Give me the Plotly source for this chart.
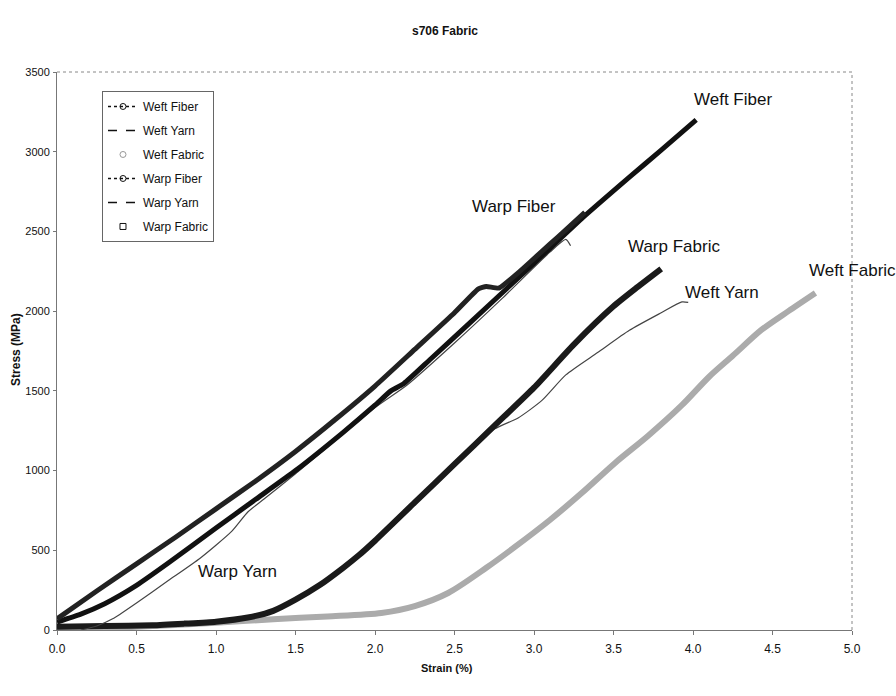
import plotly.graph_objects as go

# ---- data ----
warp_fiber_x = [0.0, 0.25, 0.5, 0.75, 1.0, 1.25, 1.5, 1.75, 2.0, 2.25, 2.5, 2.65, 2.7, 2.78, 2.9, 3.0, 3.1, 3.2, 3.32]
warp_fiber_y = [70, 245, 415, 585, 760, 935, 1120, 1320, 1530, 1760, 1990, 2140, 2155, 2145, 2240, 2330, 2420, 2510, 2620]

weft_fiber_x = [0.0, 0.15, 0.3, 0.5, 0.7, 1.0, 1.25, 1.5, 1.8, 2.0, 2.1, 2.18, 2.35, 2.6, 3.0, 3.3, 3.6, 3.8, 4.02]
weft_fiber_y = [50, 100, 165, 280, 420, 640, 820, 1000, 1240, 1410, 1500, 1545, 1700, 1930, 2300, 2580, 2840, 3010, 3200]

warp_yarn_x = [0.15, 0.25, 0.35, 0.5, 0.7, 0.9, 1.1, 1.2, 1.3, 1.5, 2.0, 2.2, 2.5, 2.8, 3.1, 3.2, 3.23]
warp_yarn_y = [0, 25, 70, 170, 310, 450, 620, 740, 820, 980, 1395, 1535, 1800, 2080, 2370, 2450, 2410]

warp_fabric_x = [0.0, 0.3, 0.6, 0.8, 1.0, 1.2, 1.36, 1.5, 1.65, 1.8, 1.9, 2.0, 2.25, 2.5, 2.75, 3.0, 3.25, 3.5, 3.65, 3.8]
warp_fabric_y = [20, 25, 30, 40, 52, 78, 120, 190, 280, 390, 470, 560, 800, 1040, 1280, 1520, 1790, 2030, 2150, 2265]

weft_yarn_x = [0.8, 1.2, 1.5, 2.0, 2.5, 2.75, 2.9, 3.05, 3.2, 3.4, 3.6, 3.8, 3.93, 3.97]
weft_yarn_y = [30, 70, 180, 550, 1030, 1260, 1330, 1440, 1600, 1740, 1880, 1990, 2058, 2055]

weft_fabric_x = [0.0, 0.5, 1.0, 1.36, 1.7, 2.04, 2.25, 2.46, 2.7, 2.88, 3.1, 3.3, 3.51, 3.72, 3.93, 4.1, 4.25, 4.43, 4.6, 4.77]
weft_fabric_y = [5, 20, 45, 68, 85, 107, 150, 232, 390, 521, 690, 859, 1048, 1220, 1410, 1587, 1720, 1882, 2000, 2114]

x_ticks = [0.0, 0.5, 1.0, 1.5, 2.0, 2.5, 3.0, 3.5, 4.0, 4.5, 5.0]
y_ticks = [0, 500, 1000, 1500, 2000, 2500, 3000, 3500]

series_labels = ["Weft Fiber", "Weft Yarn", "Weft Fabric", "Warp Fiber", "Warp Yarn", "Warp Fabric"]
curve_labels = {
    "Weft Fiber": (4.25, 3325),
    "Warp Fiber": (2.875, 2654),
    "Warp Fabric": (3.88, 2403),
    "Weft Yarn": (4.18, 2114),
    "Weft Fabric": (5.0, 2252),
    "Warp Yarn": (1.135, 364),
}

FONT = "Liberation Sans, Arial, sans-serif"

fig = go.Figure()

# ---- plotted curves (dense-marker look approximated with thick lines) ----
fig.add_trace(go.Scatter(x=weft_fabric_x, y=weft_fabric_y, mode="lines",
                         line=dict(color="#ababab", width=6, shape="spline", smoothing=0.8),
                         showlegend=False, hoverinfo="skip"))
fig.add_trace(go.Scatter(x=weft_yarn_x, y=weft_yarn_y, mode="lines",
                         line=dict(color="#444444", width=1.2, shape="spline", smoothing=0.6),
                         showlegend=False, hoverinfo="skip"))
fig.add_trace(go.Scatter(x=warp_fabric_x, y=warp_fabric_y, mode="lines",
                         line=dict(color="#1a1a1a", width=6, shape="spline", smoothing=0.6),
                         showlegend=False, hoverinfo="skip"))
fig.add_trace(go.Scatter(x=warp_yarn_x, y=warp_yarn_y, mode="lines",
                         line=dict(color="#444444", width=1.2, shape="spline", smoothing=0.6),
                         showlegend=False, hoverinfo="skip"))
fig.add_trace(go.Scatter(x=weft_fiber_x, y=weft_fiber_y, mode="lines",
                         line=dict(color="#111111", width=5, shape="spline", smoothing=0.5),
                         showlegend=False, hoverinfo="skip"))
fig.add_trace(go.Scatter(x=warp_fiber_x, y=warp_fiber_y, mode="lines",
                         line=dict(color="#222222", width=5, shape="spline", smoothing=0.4),
                         showlegend=False, hoverinfo="skip"))

# ---- legend entries (Excel style symbols) ----
legend_styles = {
    "Weft Fiber": dict(mode="lines+markers", line=dict(color="#111", width=1.5, dash="dot"),
                       marker=dict(symbol="circle-open", size=6, color="#111")),
    "Weft Yarn": dict(mode="lines", line=dict(color="#111", width=1.5, dash="dash")),
    "Weft Fabric": dict(mode="markers", marker=dict(symbol="circle-open", size=6, color="#999")),
    "Warp Fiber": dict(mode="lines+markers", line=dict(color="#111", width=1.5, dash="dot"),
                       marker=dict(symbol="circle-open", size=6, color="#111")),
    "Warp Yarn": dict(mode="lines", line=dict(color="#111", width=1.5, dash="dash")),
    "Warp Fabric": dict(mode="markers", marker=dict(symbol="square-open", size=6, color="#111")),
}
for i, name in enumerate(series_labels):
    fig.add_trace(go.Scatter(x=[None], y=[None], name=name, legendgroup=f"g{i}",
                             showlegend=True, **legend_styles[name]))

# ---- curve labels ----
for name, (lx, ly) in curve_labels.items():
    fig.add_annotation(x=lx, y=ly, xref="x", yref="y", text=name, showarrow=False,
                       xanchor="center", yanchor="middle",
                       font=dict(family=FONT, size=17, color="#111"))

# ---- titles ----
fig.add_annotation(x=0.488, y=1.0735, xref="paper", yref="paper", text="<b>s706 Fabric</b>",
                   xanchor="center", yanchor="middle",
                   showarrow=False, font=dict(family=FONT, size=12, color="#111"))
fig.add_annotation(x=0.4906, y=-0.068, xref="paper", yref="paper", text="<b>Strain (%)</b>",
                   xanchor="center", yanchor="middle",
                   showarrow=False, font=dict(family=FONT, size=11, color="#111"))
fig.add_annotation(x=-0.0515, y=0.502, xref="paper", yref="paper", text="<b>Stress (MPa)</b>",
                   xanchor="center", yanchor="middle",
                   textangle=-90, showarrow=False, font=dict(family=FONT, size=12, color="#111"))

# dotted plot-area border (top and right)
fig.add_shape(type="line", xref="paper", yref="paper", x0=0, x1=1, y0=1, y1=1,
              line=dict(color="#888", width=1, dash="dot"))
fig.add_shape(type="line", xref="paper", yref="paper", x0=1, x1=1, y0=0, y1=1,
              line=dict(color="#888", width=1, dash="dot"))

fig.update_layout(
    width=896, height=696,
    margin=dict(l=57, r=44, t=72, b=66),
    paper_bgcolor="white", plot_bgcolor="white",
    font=dict(family=FONT, size=12, color="#111"),
    legend=dict(x=0.0566, y=0.966, xanchor="left", yanchor="top",
                bgcolor="white", bordercolor="#666", borderwidth=1,
                font=dict(family=FONT, size=12), tracegroupgap=5,
                traceorder="grouped", itemwidth=30),
    xaxis=dict(range=[0, 5], tickvals=x_ticks, ticktext=[f"{v:.1f}" for v in x_ticks],
               showgrid=False, zeroline=False, showline=True, linecolor="#777", linewidth=1,
               ticks="outside", ticklen=4, tickcolor="#777", ticklabelstandoff=4,
               tickfont=dict(family=FONT, size=12)),
    yaxis=dict(range=[0, 3500], tickvals=y_ticks, ticktext=[str(v) for v in y_ticks],
               showgrid=False, zeroline=False, showline=True, linecolor="#777", linewidth=1,
               ticks="outside", ticklen=3, tickcolor="#777", ticklabelstandoff=1,
               tickfont=dict(family=FONT, size=11)),
)

fig.write_html("out.html")
